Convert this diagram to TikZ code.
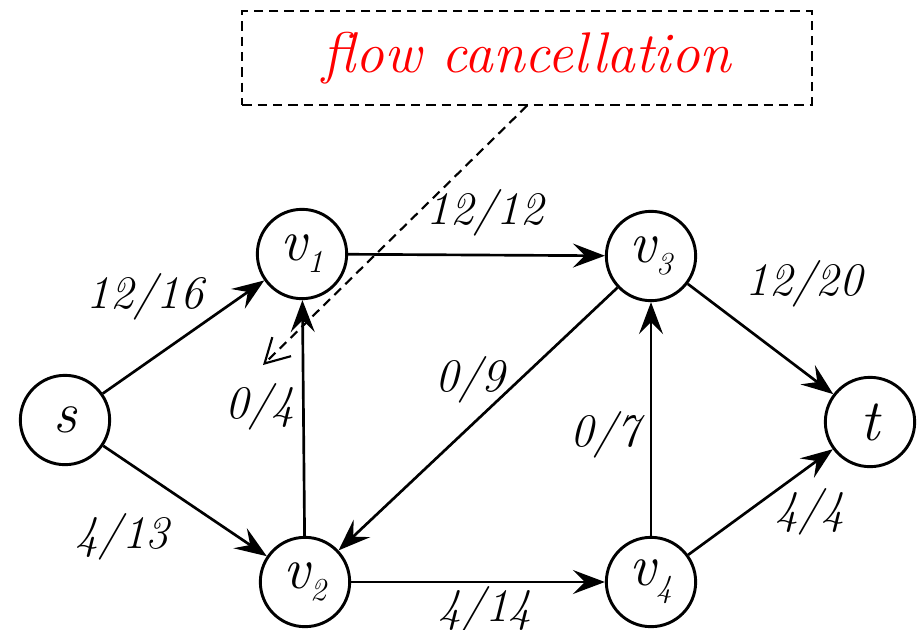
\documentclass[tikz,border=0pt]{standalone}
\usetikzlibrary{arrows.meta}
\tikzset{
  vertex/.style={circle,draw,line width=2.2pt,minimum size=67pt,inner sep=0pt,
                 font=\itshape\fontsize{44}{44}\selectfont},
  flowedge/.style={-{Stealth[length=24pt,width=18pt,inset=9pt]},line width=2pt},
  flowlbl/.style={font=\itshape\fontsize{35}{35}\selectfont},
  notebox/.style={draw,dash pattern=on 7pt off 4.5pt,line width=1.6pt,
                  minimum width=427pt,minimum height=70pt,text=red,
                  font=\itshape\fontsize{43}{43}\selectfont},
  notearrow/.style={dash pattern=on 7pt off 4.5pt,line width=1.6pt,
                    -{Straight Barb[length=18pt,width=20pt]}}
}
\newcommand{\vsub}[1]{\raisebox{-9pt}{\fontsize{24}{24}\selectfont #1}}

\begin{document}
\begin{tikzpicture}[x=0.75pt,y=-0.75pt]
  \useasboundingbox (0,0) rectangle (923,629);
  % vertices
  \node[vertex] (s)  at (65,420)  {s};
  \node[vertex] (v1) at (302,254) {v\vsub{1}};
  \node[vertex] (v2) at (305,582) {v\vsub{2}};
  \node[vertex] (v3) at (651,256) {v\vsub{3}};
  \node[vertex] (v4) at (651,582) {v\vsub{4}};
  \node[vertex] (t)  at (870,422) {t};
  % edges
  \draw[flowedge] (s) -- (v1);
  \draw[flowedge] (s) -- (v2);
  \draw[flowedge] (v2) -- (v1);
  \draw[flowedge] (v1) -- (v3);
  \draw[flowedge] (v3) -- (v2);
  \draw[flowedge] (v2) -- (v4);
  \draw[flowedge] (v4) -- (v3);
  \draw[flowedge] (v3) -- (t);
  \draw[flowedge] (v4) -- (t);
  % flow / capacity
  \node[flowlbl] (fsv1)  at (145,297) {12/16};
  \node[flowlbl] (fsv2)  at (122,537) {4/13};
  \node[flowlbl] (fv2v1) at (260,407) {0/4};
  \node[flowlbl] (fv1v3) at (485,213) {12/12};
  \node[flowlbl] (fv3v2) at (470,380) {0/9};
  \node[flowlbl] (fv4v3) at (605,435) {0/7};
  \node[flowlbl] (fv3t)  at (804,284) {12/20};
  \node[flowlbl] (fv4t)  at (810,512) {4/4};
  \node[flowlbl] (fv2v4) at (485,610) {4/14};
  % cancellation note
  \node[notebox] (note) at (527,58) {flow cancellation};
  \coordinate (cancel) at (263,365);
  \draw[notearrow] (note.south) -- (cancel);
\end{tikzpicture}
\end{document}
